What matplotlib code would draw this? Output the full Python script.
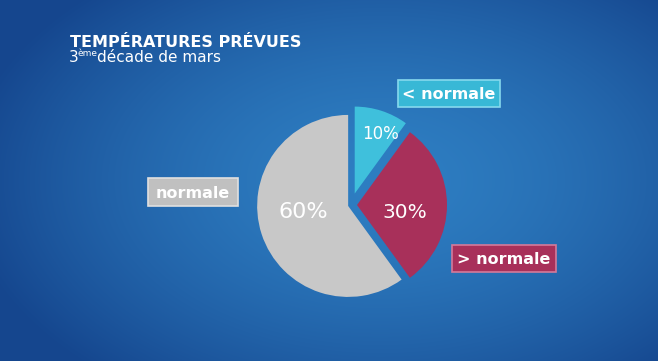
import numpy as np
import matplotlib
matplotlib.use("Agg")
import matplotlib.pyplot as plt
from matplotlib.patches import Rectangle

W, H = 658, 361

# ---- data ----
categories = ["< normale", "> normale", "normale"]
values = [10, 30, 60]
pct_labels = ["10%", "30%", "60%"]
colors = ["#3fc0dc", "#a8305a", "#c8c8c8"]
title = "TEMPÉRATURES PRÉVUES"
subtitle_num = "3"
subtitle_sup = "ème"
subtitle_rest = "décade de mars"

fig = plt.figure(figsize=(W / 100, H / 100), dpi=100)
ax = fig.add_axes([0, 0, 1, 1])

# background gradient
yy, xx = np.mgrid[0:H, 0:W]
d = np.sqrt(((xx - 380) / 420.0) ** 2 + ((yy - 180) / 260.0) ** 2)
d = np.clip(d, 0, 1)
c_in = np.array([0x2e, 0x7e, 0xc2]) / 255
c_out = np.array([0x15, 0x46, 0x8e]) / 255
t = d[..., None] ** 1.6
img = c_in[None, None, :] * (1 - t) + c_out[None, None, :] * t
ax.imshow(img, extent=(0, W, 0, H), origin="upper", aspect="auto", zorder=0)

def py(y):
    return H - y

# pie (explode in data/pixel units)
cx, cy, r = 351, 205, 91
wedges, _ = ax.pie(values, colors=colors, startangle=90, counterclock=False,
                   explode=[12, 6, 3], center=(cx, py(cy)), radius=r,
                   frame=True, wedgeprops=dict(linewidth=0))
wedges[0].set_radius(87)
wedges[1].set_radius(90)

# percent labels
pct_pos = [(380, 134), (405, 212), (303, 212)]
pct_sizes = [12, 14.5, 16]
for (x, y), t_, fs in zip(pct_pos, pct_labels, pct_sizes):
    ax.text(x, py(y), t_, color="white", fontsize=fs, ha="center", va="center",
            family="DejaVu Sans", zorder=5)

# label boxes
boxes = [(398, 80, 102, 27), (452, 245, 104, 27), (148, 178, 90, 28)]
edge_cols = ["#86d9ee", "#d47a9a", "#e0e0e0"]
face_cols = ["#38b8d6", "#a8305a", "#c0c0c0"]
for (x, y, w, h), lab, fc, ec in zip(boxes, categories, face_cols, edge_cols):
    ax.add_patch(Rectangle((x, py(y + h)), w, h, facecolor=fc, edgecolor=ec,
                           linewidth=1.2, zorder=4))
    ax.text(x + w / 2, py(y + h / 2) - 1, lab, color="white", fontsize=11.5,
            fontweight="bold", ha="center", va="center", zorder=5)

# titles
ax.text(70, py(47), title, color="white", fontsize=11.5, fontweight="bold",
        ha="left", va="baseline", zorder=5)
ax.text(69, py(62), subtitle_num, color="white", fontsize=11, ha="left",
        va="baseline", zorder=5)
ax.text(77, py(56), subtitle_sup, color="white", fontsize=6.5, ha="left",
        va="baseline", zorder=5)
ax.text(97, py(62), subtitle_rest, color="white", fontsize=11, ha="left",
        va="baseline", zorder=5)

ax.set_xlim(0, W)
ax.set_ylim(0, H)
ax.set_aspect("auto")
ax.axis("off")

fig.savefig("out.png", dpi=100)
